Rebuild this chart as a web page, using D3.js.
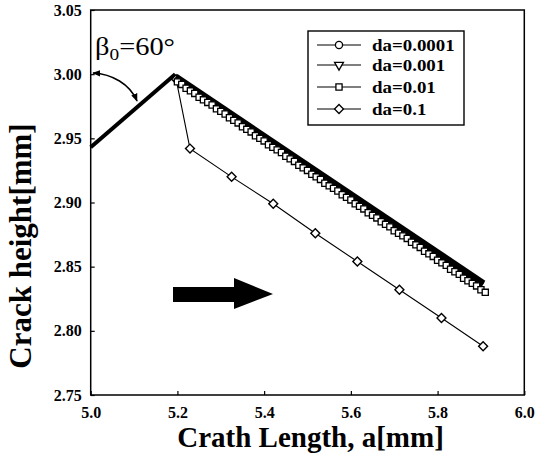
<!DOCTYPE html>
<html>
<head>
<meta charset="utf-8">
<script src="https://cdn.jsdelivr.net/npm/d3@7"></script>
<style>
  body { margin: 0; background: #fff; }
  text { font-family: "Liberation Serif", "Times New Roman", serif; fill: #000; }
</style>
</head>
<body>
<svg id="chart" width="535" height="463"></svg>
<script>
// ---- data -------------------------------------------------------------
const xTicks = [5.0, 5.2, 5.4, 5.6, 5.8, 6.0];
const yTicks = [2.75, 2.80, 2.85, 2.90, 2.95, 3.00, 3.05];

// initial (inclined) crack
const initLen = [5.0, 5.195];
const initHt  = [2.943, 3.0];

// da = 0.0001 (dense path, markers merge into a solid band)
const da0001Len = [5.195, 5.905];
const da0001Ht  = [2.9975, 2.8365];

// da = 0.001 (dense path)
const da001Len = [5.197, 5.905];
const da001Ht  = [2.997, 2.836];

// da = 0.01
const da01Len = [5.20, 5.21, 5.22, 5.23, 5.24, 5.25, 5.26, 5.27, 5.28, 5.29,
                 5.30, 5.31, 5.32, 5.33, 5.34, 5.35, 5.36, 5.37, 5.38, 5.39,
                 5.40, 5.41, 5.42, 5.43, 5.44, 5.45, 5.46, 5.47, 5.48, 5.49,
                 5.50, 5.51, 5.52, 5.53, 5.54, 5.55, 5.56, 5.57, 5.58, 5.59,
                 5.60, 5.61, 5.62, 5.63, 5.64, 5.65, 5.66, 5.67, 5.68, 5.69,
                 5.70, 5.71, 5.72, 5.73, 5.74, 5.75, 5.76, 5.77, 5.78, 5.79,
                 5.80, 5.81, 5.82, 5.83, 5.84, 5.85, 5.86, 5.87, 5.88, 5.89,
                 5.90, 5.91];
const da01Ht  = [2.994, 2.992, 2.989, 2.987, 2.985, 2.982, 2.980, 2.978, 2.976, 2.973,
                 2.971, 2.969, 2.966, 2.964, 2.962, 2.959, 2.957, 2.955, 2.952, 2.950,
                 2.948, 2.945, 2.943, 2.941, 2.939, 2.936, 2.934, 2.932, 2.929, 2.927,
                 2.925, 2.922, 2.920, 2.918, 2.915, 2.913, 2.911, 2.909, 2.906, 2.904,
                 2.902, 2.899, 2.897, 2.895, 2.892, 2.890, 2.888, 2.885, 2.883, 2.881,
                 2.878, 2.876, 2.874, 2.872, 2.869, 2.867, 2.865, 2.862, 2.860, 2.858,
                 2.855, 2.853, 2.851, 2.848, 2.846, 2.844, 2.841, 2.839, 2.837, 2.835,
                 2.832, 2.830];

// da = 0.1
const da1Len = [5.197, 5.229, 5.325, 5.421, 5.518, 5.615, 5.712, 5.809, 5.905];
const da1Ht  = [2.996, 2.942, 2.920, 2.899, 2.876, 2.854, 2.832, 2.810, 2.788];

const seriesNames = ["da=0.0001", "da=0.001", "da=0.01", "da=0.1"];

// ---- layout -----------------------------------------------------------
const svg = d3.select("#chart");
const plotLeft = 90.7, plotRight = 524.3, plotTop = 10, plotBottom = 395;

const x = d3.scaleLinear().domain([5.0, 6.0]).range([plotLeft, plotRight]);
const y = d3.scaleLinear().domain([2.75, 3.05]).range([plotBottom, plotTop]);

const zip = (a, b) => a.map((v, i) => [v, b[i]]);
const line = d3.line().x(d => x(d[0])).y(d => y(d[1]));

// ---- axes -------------------------------------------------------------
const xAxis = d3.axisBottom(x).tickValues(xTicks).tickFormat(d3.format(".1f"))
  .tickSizeInner(-4).tickSizeOuter(0).tickPadding(9);
const yAxis = d3.axisLeft(y).tickValues(yTicks).tickFormat(d3.format(".2f"))
  .tickSizeInner(-4).tickSizeOuter(0).tickPadding(9);

const gx = svg.append("g").attr("transform", `translate(0,${plotBottom})`).call(xAxis);
const gy = svg.append("g").attr("transform", `translate(${plotLeft},0)`).call(yAxis);
[gx, gy].forEach(g => {
  g.select(".domain").remove();
  g.selectAll(".tick line").attr("stroke", "#000").attr("stroke-width", 1.2);
  g.selectAll(".tick text").attr("font-size", 16).attr("font-weight", "bold")
    .attr("fill", "#000").style("font-family", '"Liberation Serif", serif');
});
gx.selectAll(".tick text").attr("dy", "0.9em");

// frame
svg.append("rect")
  .attr("x", plotLeft).attr("y", plotTop)
  .attr("width", plotRight - plotLeft).attr("height", plotBottom - plotTop)
  .attr("fill", "none").attr("stroke", "#000").attr("stroke-width", 1.5);

// axis titles
svg.append("text")
  .attr("x", (plotLeft + plotRight) / 2 + 3).attr("y", 447)
  .attr("text-anchor", "middle")
  .attr("font-size", 29).attr("font-weight", "bold")
  .text("Crath Length, a[mm]");

svg.append("text")
  .attr("transform", `translate(31,246) rotate(-90)`)
  .attr("text-anchor", "middle")
  .attr("font-size", 31).attr("font-weight", "bold")
  .text("Crack height[mm]");

// ---- marks ------------------------------------------------------------
const plot = svg.append("g");

// initial inclined crack
plot.append("path")
  .attr("d", line(zip(initLen, initHt)))
  .attr("fill", "none").attr("stroke", "#000").attr("stroke-width", 4)
  .attr("stroke-linejoin", "miter");

const sym = {
  circle:   d3.symbol().type(d3.symbolCircle).size(40),
  triangle: d3.symbol().type(d3.symbolTriangle).size(34),
  square:   d3.symbol().type(d3.symbolSquare).size(38),
  diamond:  d3.symbol().type(d3.symbolSquare).size(40)
};
const symRot = { circle: 0, triangle: 180, square: 0, diamond: 45 };

// da = 0.1
plot.append("path")
  .attr("d", line(zip(da1Len, da1Ht)))
  .attr("fill", "none").attr("stroke", "#000").attr("stroke-width", 1.1);
plot.append("g").selectAll("path")
  .data(zip(da1Len, da1Ht))
  .join("path")
  .attr("d", sym.diamond())
  .attr("transform", d => `translate(${x(d[0])},${y(d[1])}) rotate(45)`)
  .attr("fill", "#fff").attr("stroke", "#000").attr("stroke-width", 1.4);

// da = 0.0001 and da = 0.001 : markers so dense they fuse into a band
plot.append("path")
  .attr("d", line(zip(da0001Len, da0001Ht)))
  .attr("fill", "none").attr("stroke", "#000").attr("stroke-width", 8);
plot.append("path")
  .attr("d", line(zip(da001Len, da001Ht)))
  .attr("fill", "none").attr("stroke", "#000").attr("stroke-width", 5);

// da = 0.01
plot.append("path")
  .attr("d", line(zip(da01Len, da01Ht)))
  .attr("fill", "none").attr("stroke", "#000").attr("stroke-width", 1);
plot.append("g").selectAll("path")
  .data(zip(da01Len, da01Ht))
  .join("path")
  .attr("d", sym.square())
  .attr("transform", d => `translate(${x(d[0])},${y(d[1])})`)
  .attr("fill", "#fff").attr("stroke", "#000").attr("stroke-width", 1.3);

// ---- legend -----------------------------------------------------------
const legend = svg.append("g");
legend.append("rect")
  .attr("x", 308).attr("y", 31).attr("width", 156).attr("height", 94)
  .attr("fill", "#fff").attr("stroke", "#000").attr("stroke-width", 1.4);
const legendKeys = ["circle", "triangle", "square", "diamond"];
const rowY = [45, 65, 87, 109];
seriesNames.forEach((name, i) => {
  const ry = rowY[i];
  legend.append("line")
    .attr("x1", 317).attr("x2", 361).attr("y1", ry).attr("y2", ry)
    .attr("stroke", "#000").attr("stroke-width", 1.1);
  const k = legendKeys[i];
  legend.append("path")
    .attr("d", sym[k]())
    .attr("transform", `translate(339,${ry}) rotate(${symRot[k]})`)
    .attr("fill", "#fff").attr("stroke", "#000").attr("stroke-width", 1.3);
  const t = legend.append("text")
    .attr("x", 372).attr("y", ry + 5.5)
    .attr("font-size", 17.5).attr("font-weight", "bold")
    .text(name);
  const w = t.node().getComputedTextLength();
  t.attr("textLength", w * 1.08).attr("lengthAdjust", "spacingAndGlyphs");
});

// ---- annotations ------------------------------------------------------
const defs = svg.append("defs");
defs.append("marker")
  .attr("id", "tip").attr("viewBox", "0 0 10 10")
  .attr("refX", 9).attr("refY", 5)
  .attr("markerWidth", 8).attr("markerHeight", 8)
  .attr("markerUnits", "userSpaceOnUse")
  .attr("orient", "auto-start-reverse")
  .append("path").attr("d", "M0,1 L10,5 L0,9 Z").attr("fill", "#000");

svg.append("path")
  .attr("d", "M93,73 C112,74 130,84 137,101")
  .attr("fill", "none").attr("stroke", "#000").attr("stroke-width", 1.5)
  .attr("marker-start", "url(#tip)").attr("marker-end", "url(#tip)");

const beta = svg.append("text").attr("x", 95).attr("y", 55).attr("font-size", 25);
beta.append("tspan").text("β");
beta.append("tspan").attr("font-size", 17).attr("dy", 5).text("0");
beta.append("tspan").attr("dy", -5).text("=60°");
beta.attr("textLength", 80).attr("lengthAdjust", "spacingAndGlyphs");

// growth-direction arrow
svg.append("path")
  .attr("d", "M173,287 L234,287 L234,278 L273,294 L234,309 L234,302 L173,302 Z")
  .attr("fill", "#000");
</script>
</body>
</html>
